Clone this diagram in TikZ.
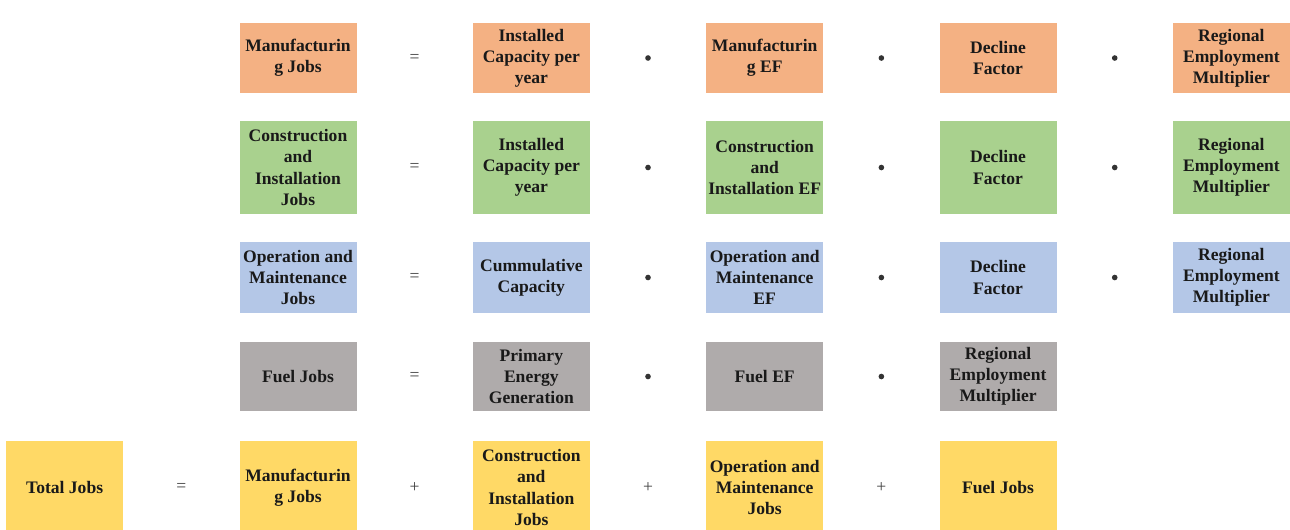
\documentclass[tikz,border=0pt]{standalone}
\usepackage{fontspec}
\setmainfont{Liberation Serif}
\usepackage{xcolor}
\usetikzlibrary{positioning}

\definecolor{mfgorange}{HTML}{F4B183}
\definecolor{congreen}{HTML}{A9D18E}
\definecolor{omblue}{HTML}{B4C7E7}
\definecolor{fuelgray}{HTML}{AFABAB}
\definecolor{totyellow}{HTML}{FFD966}

\begin{document}
\begin{tikzpicture}[
        node distance=2.327cm,
        box/.style={rectangle, minimum width=2.34cm, inner sep=1pt, outer sep=0pt, align=center, font=\bfseries, text=black!90},
        mfgbox/.style={box, fill=mfgorange, minimum height=1.4cm},
        conbox/.style={box, fill=congreen, minimum height=1.86cm},
        ombox/.style={box, fill=omblue, minimum height=1.42cm},
        fuelbox/.style={box, fill=fuelgray, minimum height=1.38cm},
        totbox/.style={box, fill=totyellow, minimum height=1.86cm},
        op/.style={text=black!75},
        dot/.style={circle, fill=black!80, inner sep=0pt, minimum size=3.2pt}
    ]
        \useasboundingbox (0,0) rectangle (25.8,-10.58);

        % Manufacturing row
        \node (mfg) [mfgbox] at (5.96,-1.16) {Manufacturin\\g Jobs};
        \node (mfgcap) [mfgbox, right=of mfg] {Installed\\Capacity per\\year};
        \node (mfgef) [mfgbox, right=of mfgcap] {Manufacturin\\g EF};
        \node (mfgdf) [mfgbox, right=of mfgef] {Decline\\Factor};
        \node (mfgrem) [mfgbox, right=of mfgdf] {Regional\\Employment\\Multiplier};

        % Construction and installation row
        \node (con) [conbox, below=0.56cm of mfg] {Construction\\and\\Installation\\Jobs};
        \node (concap) [conbox, right=of con] {Installed\\Capacity per\\year};
        \node (conef) [conbox, right=of concap] {Construction\\and\\Installation EF};
        \node (condf) [conbox, right=of conef] {Decline\\Factor};
        \node (conrem) [conbox, right=of condf] {Regional\\Employment\\Multiplier};

        % Operation and maintenance row
        \node (om) [ombox, below=0.56cm of con] {Operation and\\Maintenance\\Jobs};
        \node (omcap) [ombox, right=of om] {Cummulative\\Capacity};
        \node (omef) [ombox, right=of omcap] {Operation and\\Maintenance\\EF};
        \node (omdf) [ombox, right=of omef] {Decline\\Factor};
        \node (omrem) [ombox, right=of omdf] {Regional\\Employment\\Multiplier};

        % Fuel row
        \node (fuel) [fuelbox, below=0.58cm of om] {Fuel Jobs};
        \node (fuelgen) [fuelbox, right=of fuel] {Primary\\Energy\\Generation};
        \node (fuelef) [fuelbox, right=of fuelgen] {Fuel EF};
        \node (fuelrem) [fuelbox, right=of fuelef] {Regional\\Employment\\Multiplier};

        % Total row
        \node (totmfg) [totbox, below=0.6cm of fuel] {Manufacturin\\g Jobs};
        \node (total) [totbox, left=of totmfg] {Total Jobs};
        \node (totcon) [totbox, right=of totmfg] {Construction\\and\\Installation\\Jobs};
        \node (totom) [totbox, right=of totcon] {Operation and\\Maintenance\\Jobs};
        \node (totfuel) [totbox, right=of totom] {Fuel Jobs};

        % Operators
        \path (mfg) -- (mfgcap) node[midway, op] {=};
        \path (mfgcap) -- (mfgef) node[midway, dot] {};
        \path (mfgef) -- (mfgdf) node[midway, dot] {};
        \path (mfgdf) -- (mfgrem) node[midway, dot] {};

        \path (con) -- (concap) node[midway, op] {=};
        \path (concap) -- (conef) node[midway, dot] {};
        \path (conef) -- (condf) node[midway, dot] {};
        \path (condf) -- (conrem) node[midway, dot] {};

        \path (om) -- (omcap) node[midway, op] {=};
        \path (omcap) -- (omef) node[midway, dot] {};
        \path (omef) -- (omdf) node[midway, dot] {};
        \path (omdf) -- (omrem) node[midway, dot] {};

        \path (fuel) -- (fuelgen) node[midway, op] {=};
        \path (fuelgen) -- (fuelef) node[midway, dot] {};
        \path (fuelef) -- (fuelrem) node[midway, dot] {};

        \path (total) -- (totmfg) node[midway, op] {=};
        \path (totmfg) -- (totcon) node[midway, op] {+};
        \path (totcon) -- (totom) node[midway, op] {+};
        \path (totom) -- (totfuel) node[midway, op] {+};
    \end{tikzpicture}
\end{document}
